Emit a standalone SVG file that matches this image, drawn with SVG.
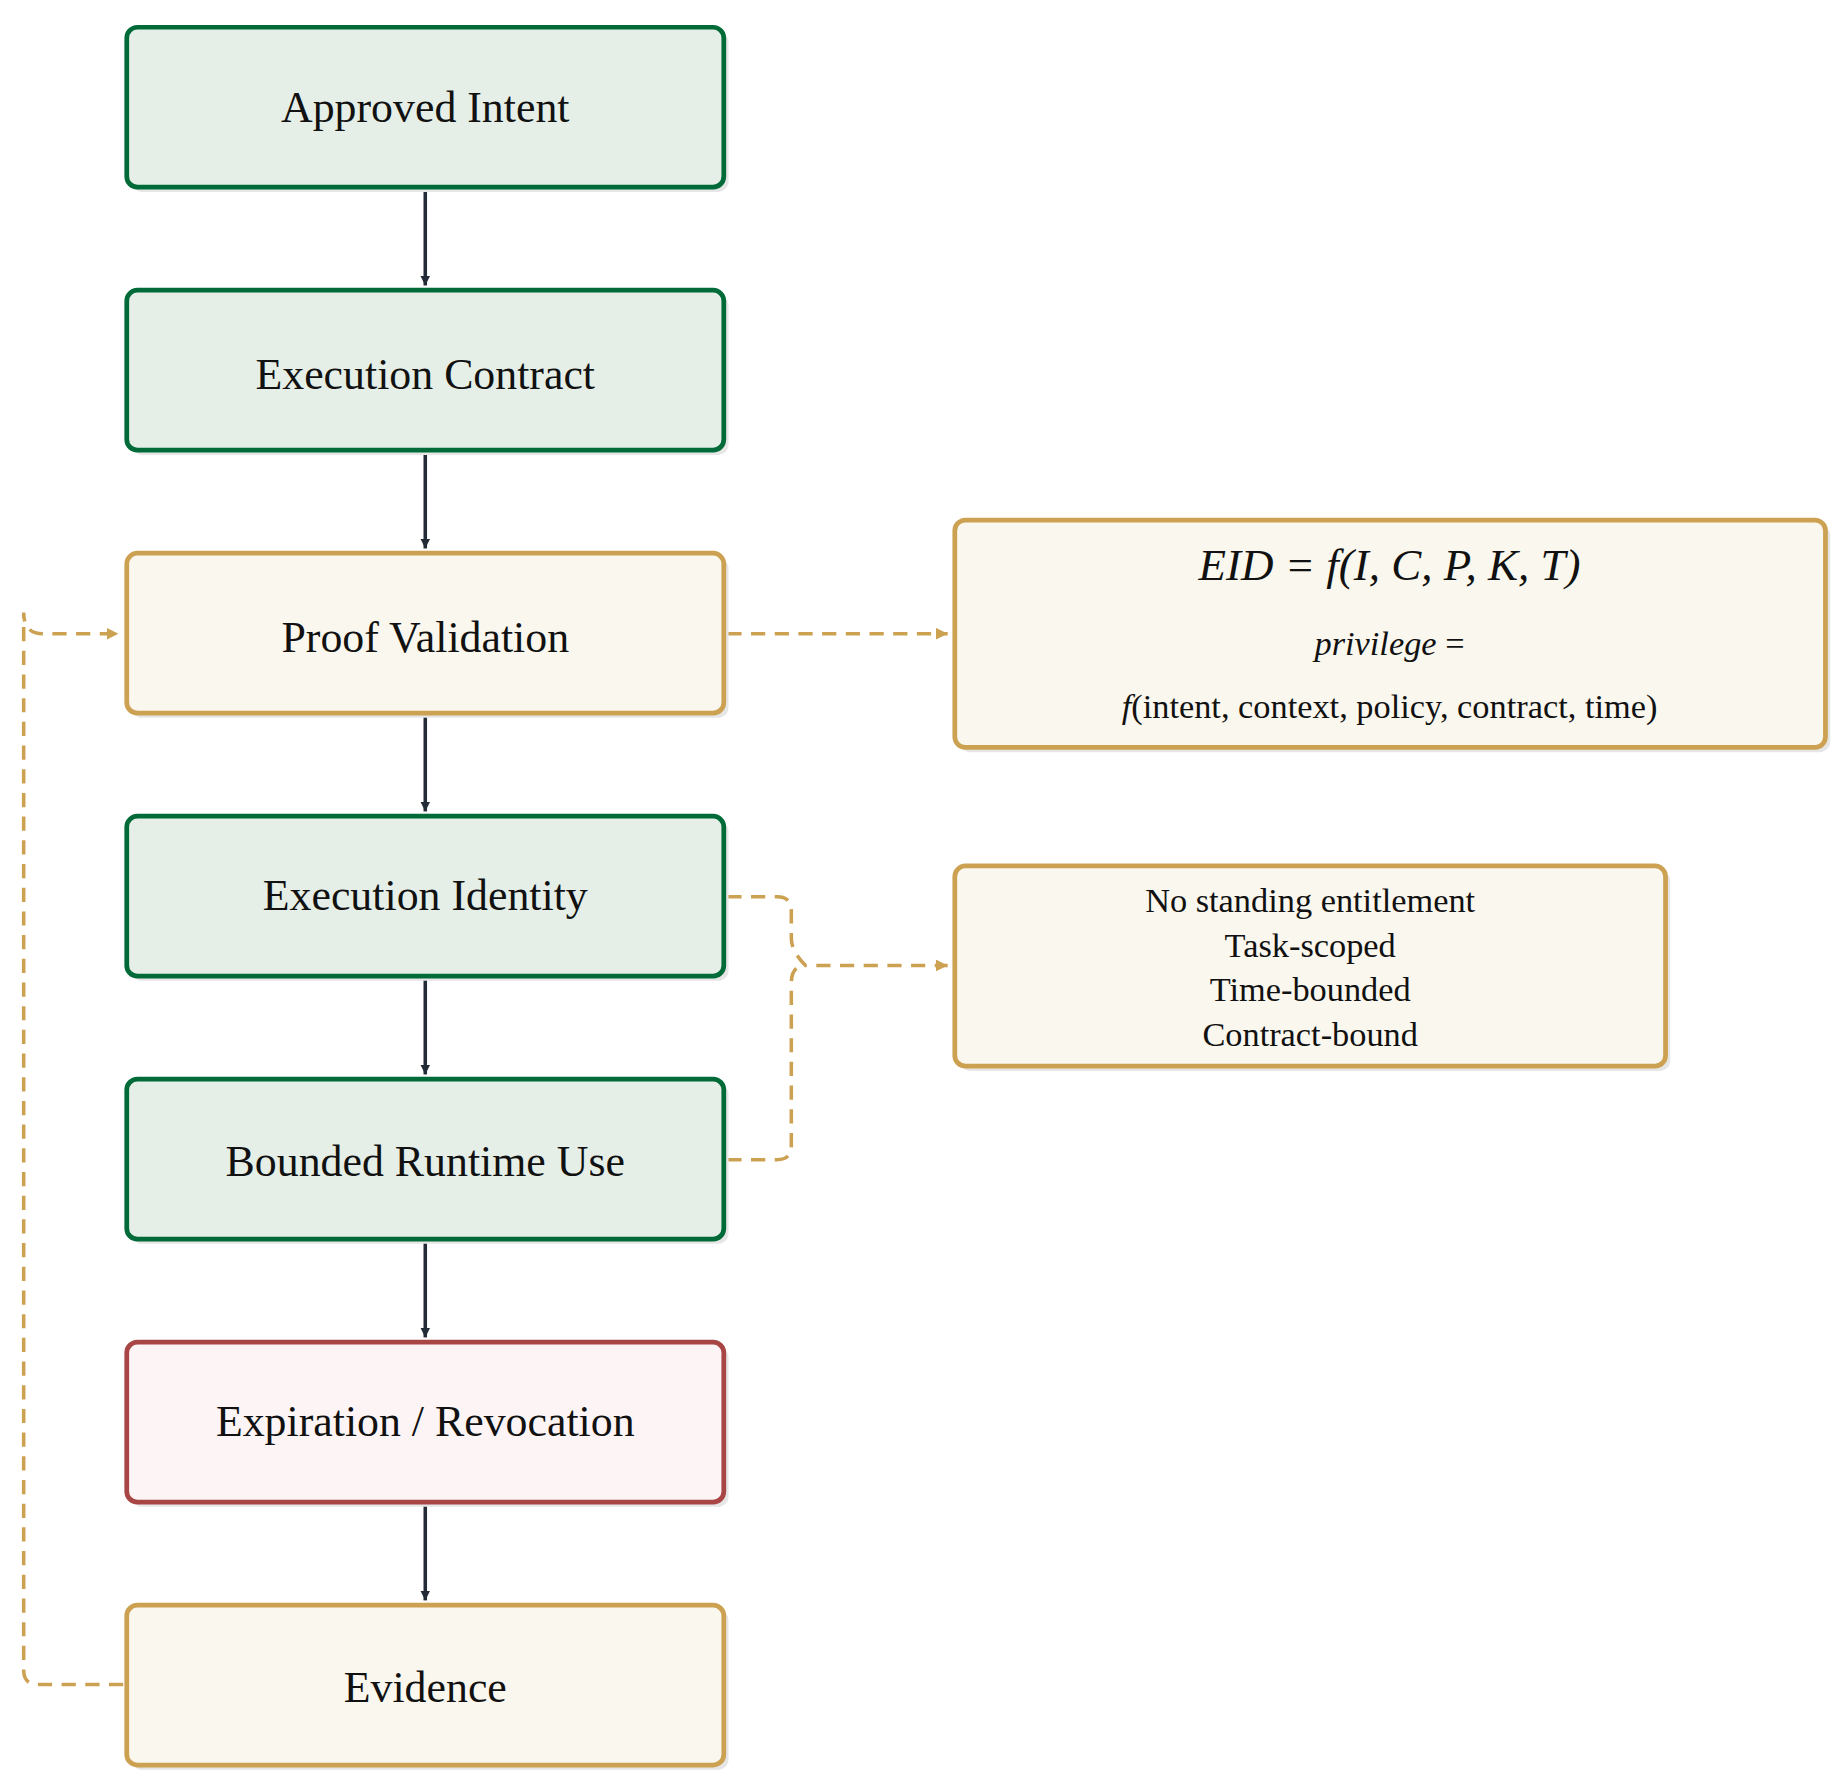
<svg xmlns="http://www.w3.org/2000/svg" width="1848" height="1789" viewBox="0 0 1848 1789">
<defs>
<style>
.sh{fill:#e6e6e6}
.g{fill:#e5efe7;stroke:#006b38;stroke-width:4}
.y{fill:#faf7ee;stroke:#cca152;stroke-width:4}
.r{fill:#fdf5f5;stroke:#a84545;stroke-width:4}
.t{font-family:"Liberation Serif",serif;font-size:37px;fill:#111;text-anchor:middle}
.s{font-family:"Liberation Serif",serif;font-size:29px;fill:#111;text-anchor:middle}
.m{font-family:"Liberation Serif",serif;font-size:38px;fill:#111;text-anchor:middle;font-style:italic}
.solid{stroke:#222b36;stroke-width:3;fill:none}
.dash{stroke:#cca152;stroke-width:3;fill:none;stroke-dasharray:12 8}
</style>
<marker id="ak" viewBox="0 0 10 10" refX="10" refY="5" markerWidth="8" markerHeight="10" markerUnits="userSpaceOnUse" orient="auto"><path d="M0,0L10,5L0,10z" fill="#222b36"/></marker>
<marker id="ay" viewBox="0 0 10 10" refX="10" refY="5" markerWidth="10" markerHeight="10" markerUnits="userSpaceOnUse" orient="auto"><path d="M0,0L10,5L0,10z" fill="#cca152"/></marker>
</defs>
<g transform="scale(1.1846)">
<g id="connectors">
<line class="solid" x1="359" y1="160" x2="359" y2="241" marker-end="url(#ak)" style="stroke-width:3"/>
<line class="solid" x1="359" y1="382" x2="359" y2="463" marker-end="url(#ak)"/>
<line class="solid" x1="359" y1="604" x2="359" y2="685" marker-end="url(#ak)"/>
<line class="solid" x1="359" y1="826" x2="359" y2="907" marker-end="url(#ak)"/>
<line class="solid" x1="359" y1="1048" x2="359" y2="1129" marker-end="url(#ak)"/>
<line class="solid" x1="359" y1="1270" x2="359" y2="1351" marker-end="url(#ak)"/>
<line class="dash" x1="614" y1="535" x2="800" y2="535" marker-end="url(#ay)"/>
<path class="dash" d="M614,757H656Q668,757 668,769V792Q668,803 680,815H800" marker-end="url(#ay)"/>
<path class="dash" d="M614,979H656Q668,979 668,967V830Q668,815 680,815"/>
<path class="dash" d="M104,1422H32Q20,1422 20,1410V517Q20,535 36,535H100" marker-end="url(#ay)"/>
</g>
<g id="n1"><rect class="sh" x="111" y="27" width="504" height="135" rx="9"/><rect class="g" x="107" y="23" width="504" height="135" rx="9"/><text class="t" x="359" y="103">Approved Intent</text></g>
<g id="n2"><rect class="sh" x="111" y="249" width="504" height="135" rx="9"/><rect class="g" x="107" y="245" width="504" height="135" rx="9"/><text class="t" x="359" y="328">Execution Contract</text></g>
<g id="n3"><rect class="sh" x="111" y="471" width="504" height="135" rx="9"/><rect class="y" x="107" y="467" width="504" height="135" rx="9"/><text class="t" x="359" y="550">Proof Validation</text></g>
<g id="n4"><rect class="sh" x="111" y="693" width="504" height="135" rx="9"/><rect class="g" x="107" y="689" width="504" height="135" rx="9"/><text class="t" x="359" y="768">Execution Identity</text></g>
<g id="n5"><rect class="sh" x="111" y="915" width="504" height="135" rx="9"/><rect class="g" x="107" y="911" width="504" height="135" rx="9"/><text class="t" x="359" y="993">Bounded Runtime Use</text></g>
<g id="n6"><rect class="sh" x="111" y="1137" width="504" height="135" rx="9"/><rect class="r" x="107" y="1133" width="504" height="135" rx="9"/><text class="t" x="359" y="1212">Expiration / Revocation</text></g>
<g id="n7"><rect class="sh" x="111" y="1359" width="504" height="135" rx="9"/><rect class="y" x="107" y="1355" width="504" height="135" rx="9"/><text class="t" x="359" y="1437">Evidence</text></g>
<g id="eid"><rect class="sh" x="810" y="443" width="735" height="192" rx="9"/><rect class="y" x="806" y="439" width="735" height="192" rx="9"/>
<text class="m" x="1173" y="490">EID  =  f(I, C, P, K, T)</text>
<text class="s" x="1173" y="553"><tspan font-style="italic">privilege</tspan>    =</text>
<text class="s" x="1173" y="606"><tspan font-style="italic">f</tspan>(intent, context, policy, contract, time)</text></g>
<g id="notes"><rect class="sh" x="810" y="735" width="600" height="169" rx="9"/><rect class="y" x="806" y="731" width="600" height="169" rx="9"/>
<text class="s" x="1106" y="770">No standing entitlement</text>
<text class="s" x="1106" y="808">Task-scoped</text>
<text class="s" x="1106" y="845">Time-bounded</text>
<text class="s" x="1106" y="883">Contract-bound</text></g>
</g>
</svg>
